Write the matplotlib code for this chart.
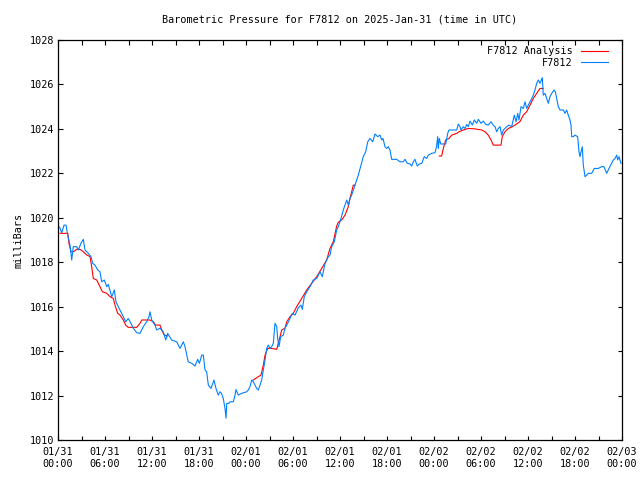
import numpy as np
import matplotlib
matplotlib.use("Agg")
import matplotlib.pyplot as plt

# ---- data (hours since 2025-01-31 00:00 UTC, pressure in mbar) ----
obs_hours = [0.0, 0.26, 0.47, 0.77, 1.02, 1.24, 1.53, 1.75, 1.95, 2.39, 2.59, 2.94, 3.23, 3.45, 3.87,
             4.21, 4.43, 4.72, 5.07, 5.36, 5.58, 5.91, 6.22, 6.42, 6.86, 7.19, 7.40, 7.70, 8.13, 8.34,
             8.64, 8.97, 9.32, 9.61, 10.05, 10.47, 10.89, 11.32, 11.62, 11.74, 11.96, 12.38, 12.60,
             13.02, 13.44, 13.75, 14.00, 14.51, 15.15, 15.57, 16.00, 16.21, 16.63, 17.07, 17.49, 17.83,
             18.06, 18.34, 18.55, 18.77, 18.98, 19.19, 19.53, 19.91, 20.17, 20.46, 20.68, 20.87, 21.10,
             21.32, 21.45, 21.54, 21.83, 21.96, 22.38, 22.60, 22.72, 23.02, 23.45, 24.09, 24.29, 24.51,
             24.73, 24.93, 25.15, 25.37, 25.57, 25.79, 26.00, 26.21, 26.43, 26.64, 26.85, 27.06, 27.28,
             27.49, 27.70, 27.92, 28.04, 28.21, 28.43, 28.76, 28.98, 29.32, 29.62, 29.91, 30.26, 30.68,
             31.02, 31.19, 31.44, 31.75, 32.17, 32.59, 33.03, 33.45, 33.74, 34.09, 34.51, 34.72, 34.94,
             35.27, 35.58, 35.78, 36.13, 36.42, 36.86, 37.06, 37.28, 37.49, 37.91, 38.34, 38.68, 38.97,
             39.28, 39.54, 39.83, 40.17, 40.47, 40.81, 41.11, 41.32, 41.49, 41.74, 41.96, 42.17, 42.38,
             42.60, 43.24, 43.66, 44.08, 44.30, 44.59, 44.94, 45.15, 45.36, 45.57, 45.87, 46.12, 46.43,
             46.76, 47.07, 47.27, 47.71, 48.13, 48.32, 48.47, 48.55, 48.68, 48.86, 49.49, 49.75, 49.91,
             50.90, 51.10, 51.32, 51.45, 51.74, 51.96, 52.18, 52.38, 52.60, 52.89, 53.15, 53.45, 53.66,
             54.00, 54.29, 54.60, 54.93, 55.28, 55.57, 55.79, 56.00, 56.21, 56.43, 56.64, 56.85, 57.06,
             57.28, 57.57, 57.92, 58.25, 58.47, 58.69, 58.85, 59.11, 59.40, 59.62, 59.83, 60.04, 60.38,
             60.68, 60.89, 61.11, 61.32, 61.53, 61.72, 61.83, 61.95, 62.17, 62.39, 62.59, 62.81, 63.03,
             63.32, 63.49, 63.66, 63.87, 64.09, 64.51, 64.72, 64.94, 65.14, 65.36, 65.49, 65.58, 65.78,
             66.00, 66.34, 66.51, 66.64, 66.77, 66.93, 67.06, 67.28, 67.49, 67.70, 68.13, 68.46, 68.97,
             69.41, 69.70, 70.04, 70.34, 70.68, 70.89, 71.11, 71.32, 71.45, 71.62, 71.87]
obs_mbar = [1019.65, 1019.53, 1019.33, 1019.67, 1019.67, 1019.22, 1018.77, 1018.10, 1018.70, 1018.70,
            1018.55, 1018.86, 1019.03, 1018.55, 1018.40, 1018.25, 1017.95, 1017.87, 1017.65, 1017.57,
            1017.12, 1017.20, 1016.90, 1017.00, 1016.45, 1016.75, 1016.22, 1016.00, 1015.70, 1015.55,
            1015.32, 1015.47, 1015.25, 1015.03, 1014.83, 1014.80, 1015.10, 1015.32, 1015.55, 1015.77,
            1015.40, 1015.17, 1014.95, 1015.03, 1014.87, 1014.50, 1014.80, 1014.50, 1014.42, 1014.12,
            1014.42, 1014.20, 1013.52, 1013.45, 1013.33, 1013.63, 1013.45, 1013.82, 1013.82, 1013.15,
            1013.07, 1012.47, 1012.32, 1012.70, 1012.32, 1012.02, 1012.17, 1012.10, 1011.87, 1011.42,
            1010.98, 1011.65, 1011.65, 1011.72, 1011.72, 1012.02, 1012.27, 1012.02, 1012.10, 1012.17,
            1012.25, 1012.40, 1012.70, 1012.62, 1012.47, 1012.32, 1012.25, 1012.47, 1012.70, 1013.15,
            1013.60, 1014.12, 1014.27, 1014.12, 1014.20, 1014.35, 1015.25, 1015.10, 1014.57, 1014.20,
            1014.65, 1014.72, 1015.03, 1015.25, 1015.47, 1015.70, 1015.62, 1015.95, 1016.07, 1015.88,
            1016.45, 1016.67, 1016.90, 1017.20, 1017.27, 1017.57, 1017.35, 1017.95, 1018.25, 1018.32,
            1018.70, 1018.92, 1019.45, 1019.60, 1019.97, 1020.35, 1020.80, 1020.57, 1020.87, 1021.02,
            1021.47, 1021.92, 1022.37, 1022.75, 1022.97, 1023.42, 1023.57, 1023.42, 1023.77, 1023.65,
            1023.72, 1023.50, 1023.57, 1023.20, 1023.12, 1023.20, 1023.05, 1022.63, 1022.63, 1022.52,
            1022.52, 1022.63, 1022.45, 1022.42, 1022.33, 1022.52, 1022.63, 1022.33, 1022.42, 1022.45,
            1022.75, 1022.67, 1022.82, 1022.90, 1022.93, 1023.20, 1023.65, 1023.12, 1023.57, 1023.32,
            1023.32, 1023.80, 1023.95, 1023.95, 1024.22, 1024.10, 1023.95, 1024.10, 1024.02, 1024.20,
            1024.10, 1024.35, 1024.17, 1024.40, 1024.25, 1024.43, 1024.25, 1024.35, 1024.20, 1024.17,
            1024.32, 1024.17, 1024.10, 1023.87, 1024.02, 1024.10, 1023.72, 1023.95, 1024.02, 1024.10,
            1024.17, 1024.10, 1024.62, 1024.32, 1024.70, 1024.40, 1025.00, 1024.92, 1025.22, 1024.92,
            1025.07, 1025.30, 1025.52, 1025.75, 1026.05, 1026.20, 1026.05, 1026.20, 1026.30, 1025.52,
            1025.60, 1025.37, 1025.15, 1025.45, 1025.60, 1025.75, 1025.67, 1025.37, 1025.00, 1024.85,
            1024.85, 1024.70, 1024.85, 1024.62, 1024.40, 1024.17, 1023.65, 1023.65, 1023.72, 1023.65,
            1022.97, 1022.75, 1022.97, 1023.20, 1022.37, 1021.85, 1021.92, 1022.00, 1022.00, 1022.22,
            1022.22, 1022.30, 1022.30, 1022.00, 1022.22, 1022.45, 1022.60, 1022.67, 1022.82, 1022.60,
            1022.75, 1022.45]

nan = float("nan")
ana_hours = [0.26, 1.24, 1.40, 1.66, 1.95, 2.39, 2.81, 3.23, 3.66, 4.09, 4.30, 4.51, 4.94, 5.36, 5.66,
             6.22, 6.64, 7.06, 7.28, 7.62, 7.91, 8.34, 8.64, 8.97, 10.05, 10.47, 10.69, 11.74, 12.17,
             12.47, 13.02, 13.24, 13.57, 14.00, 14.01,
             24.93, 25.57, 25.91, 26.21, 26.43, 26.77, 27.28, 27.92, 28.12, 28.34, 28.56, 28.98, 29.20,
             29.62, 30.04, 30.47, 31.11, 31.75, 32.39, 33.03, 33.66, 34.30, 34.72, 35.14, 35.58, 35.78,
             36.22, 36.64, 37.06, 37.28, 37.49, 37.70, 37.91, 37.92,
             48.68, 48.98, 49.19, 49.49, 49.91, 50.26, 50.90, 51.19, 51.74, 52.38, 53.23, 54.09, 54.51,
             54.93, 55.28, 55.57, 56.55, 56.72, 57.06, 57.49, 58.00, 58.34, 58.98, 59.40, 59.83, 60.26,
             60.68, 61.11, 61.53, 61.95]
ana_mbar = [1019.30, 1019.30, 1018.85, 1018.47, 1018.47, 1018.58, 1018.58, 1018.47, 1018.33, 1018.25,
            1017.80, 1017.27, 1017.20, 1016.90, 1016.67, 1016.60, 1016.45, 1016.37, 1016.07, 1015.70,
            1015.62, 1015.40, 1015.17, 1015.07, 1015.07, 1015.25, 1015.40, 1015.40, 1015.32, 1015.17,
            1015.17, 1014.95, 1014.72, 1014.68, nan,
            1012.70, 1012.85, 1012.92, 1013.37, 1013.82, 1014.12, 1014.12, 1014.08, 1014.35, 1014.65,
            1014.95, 1015.03, 1015.32, 1015.55, 1015.70, 1016.00, 1016.37, 1016.75, 1017.05, 1017.35,
            1017.72, 1018.10, 1018.62, 1018.92, 1019.63, 1019.80, 1019.90, 1020.12, 1020.50, 1020.87,
            1021.17, 1021.47, 1021.47, nan,
            1022.78, 1022.78, 1023.12, 1023.50, 1023.57, 1023.72, 1023.80, 1023.87, 1023.95, 1024.02,
            1024.00, 1023.95, 1023.87, 1023.72, 1023.50, 1023.27, 1023.27, 1023.65, 1023.87, 1024.02,
            1024.10, 1024.17, 1024.33, 1024.62, 1024.77, 1025.07, 1025.37, 1025.60, 1025.82, 1025.82]

xtick_hours = list(range(0, 73, 6))
xtick_labels = ["01/31\n00:00", "01/31\n06:00", "01/31\n12:00", "01/31\n18:00",
                "02/01\n00:00", "02/01\n06:00", "02/01\n12:00", "02/01\n18:00",
                "02/02\n00:00", "02/02\n06:00", "02/02\n12:00", "02/02\n18:00",
                "02/03\n00:00"]
minor_hours = list(range(3, 72, 6))
ytick_vals = list(range(1010, 1029, 2))

title = "Barometric Pressure for F7812 on 2025-Jan-31 (time in UTC)"

# ---- plot ----
plt.rcParams['font.family'] = ['DejaVu Sans Mono']
FS = 7.3

fig = plt.figure(figsize=(6.4, 4.8), dpi=100)
ax = fig.add_axes([58/640, 40/480, 564/640, 400/480])

ax.plot(ana_hours, ana_mbar, color='#ff0000', lw=0.8, label='F7812 Analysis')
ax.plot(obs_hours, obs_mbar, color='#0080ff', lw=0.8, label='F7812')

ax.set_xlim(0, 72)
ax.set_ylim(1010, 1028)
ax.set_xticks(xtick_hours)
ax.set_xticklabels(xtick_labels, fontsize=FS, linespacing=1.25)
ax.set_xticks(minor_hours, minor=True)
ax.set_yticks(ytick_vals)
ax.set_yticklabels([str(v) for v in ytick_vals], fontsize=FS)
ax.tick_params(axis='both', which='both', direction='in', top=True, right=True,
               length=4.5*0.72, width=0.8, pad=3)
ax.tick_params(axis='x', which='major', pad=5)
for s in ax.spines.values():
    s.set_linewidth(0.9)

ax.set_ylabel("milliBars", fontsize=FS, labelpad=4)
fig.text(340/640, 1 - 19/480, title, ha='center', va='center', fontsize=FS)

leg = ax.legend(loc='upper right', bbox_to_anchor=(0.986, 1.0), frameon=False,
                markerfirst=False, fontsize=FS, handlelength=2.7, handletextpad=0.8,
                labelspacing=0.15, borderaxespad=0.2)

fig.savefig("out.png", dpi=100)
